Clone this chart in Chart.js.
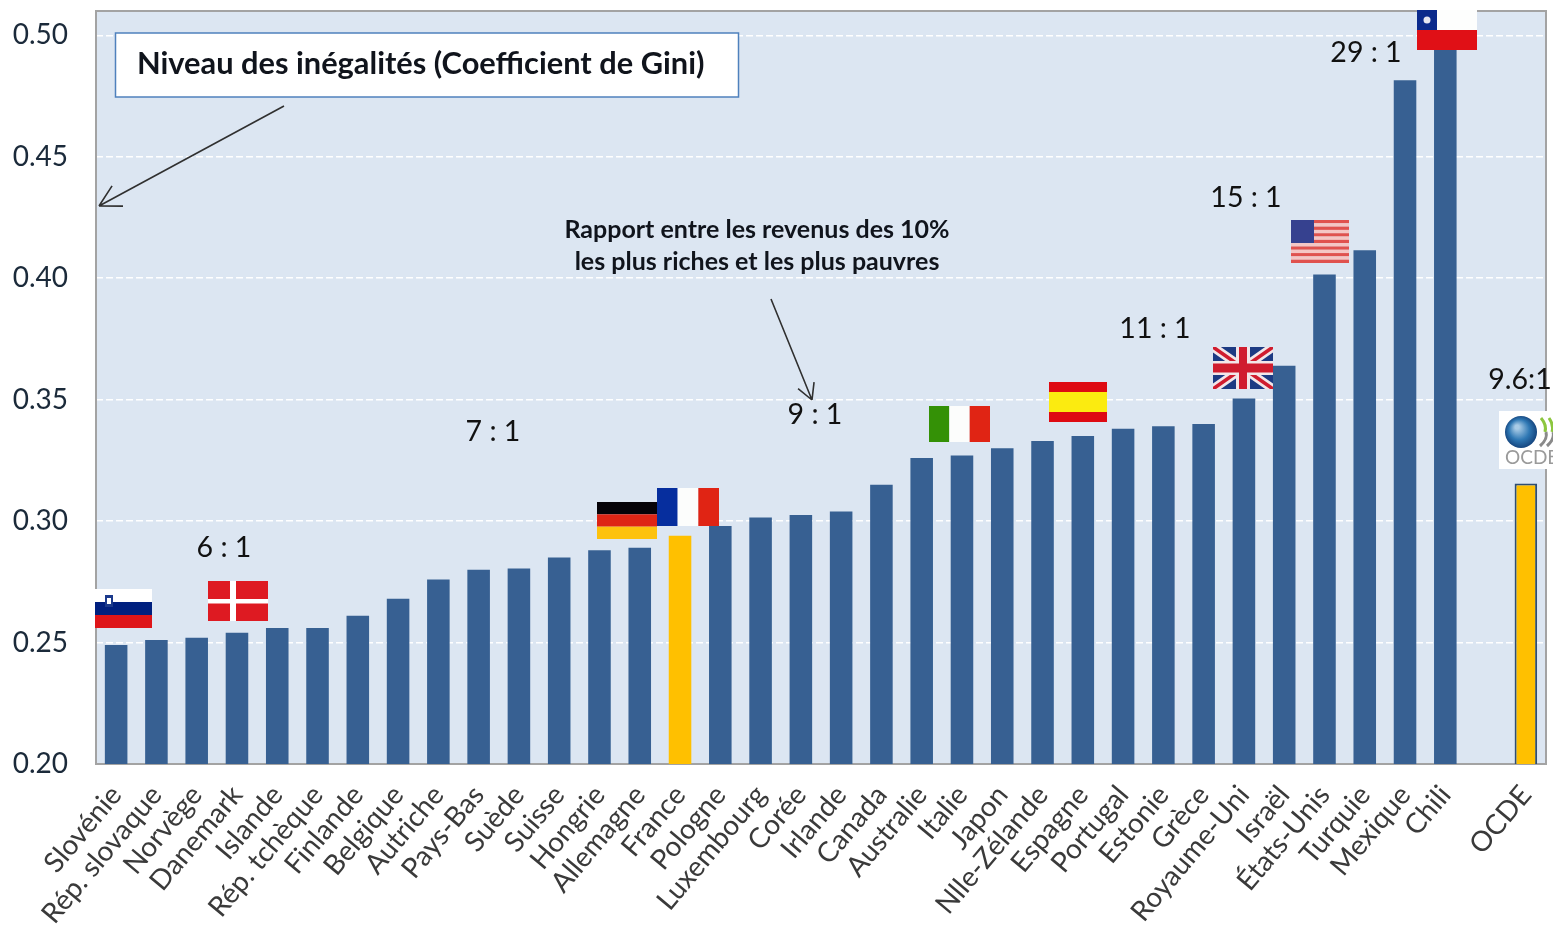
<!DOCTYPE html>
<html lang="fr">
<head>
  <meta charset="UTF-8" />
  <title>Niveau des inégalités (Coefficient de Gini)</title>
  <script src="https://cdn.jsdelivr.net/npm/chart.js"></script>
  <style>
    body { margin: 0; background: #fff; }
    canvas { display: block; }
  </style>
</head>
<body>
  <canvas id="giniChart" width="1554" height="930"></canvas>
  <script>
    // Data (the empty category is the gap before OCDE)
    const categories = ['Slovénie', 'Rép. slovaque', 'Norvège', 'Danemark', 'Islande', 'Rép. tchèque', 'Finlande', 'Belgique',
      'Autriche', 'Pays-Bas', 'Suède', 'Suisse', 'Hongrie', 'Allemagne', 'France', 'Pologne', 'Luxembourg', 'Corée',
      'Irlande', 'Canada', 'Australie', 'Italie', 'Japon', 'Nlle-Zélande', 'Espagne', 'Portugal', 'Estonie', 'Grèce',
      'Royaume-Uni', 'Israël', 'États-Unis', 'Turquie', 'Mexique', 'Chili', '', 'OCDE'];
    const giniValues = [0.249, 0.251, 0.252, 0.254, 0.256, 0.256, 0.261, 0.268,
      0.276, 0.280, 0.2805, 0.285, 0.288, 0.289, 0.294, 0.298, 0.3015, 0.3025,
      0.304, 0.315, 0.326, 0.327, 0.330, 0.333, 0.335, 0.338, 0.339, 0.340,
      0.3505, 0.364, 0.4015, 0.4115, 0.4815, 0.494, null, 0.3155];
    const yTicks = [0.20, 0.25, 0.30, 0.35, 0.40, 0.45, 0.50];
    const goldCategories = ['France', 'OCDE'];

    const FONT = 'Lato, sans-serif';

    // Background and frame of the plot area
    const plotFrame = {
      id: 'plotFrame',
      beforeDraw(chart) {
        const { ctx, chartArea: a } = chart;
        ctx.fillStyle = '#DCE6F2';
        ctx.fillRect(a.left, a.top, a.width, a.height);
      },
      beforeDatasetsDraw(chart) {
        const { ctx, chartArea: a } = chart;
        ctx.strokeStyle = '#A3A3A3';
        ctx.lineWidth = 2;
        ctx.strokeRect(a.left, a.top, a.width, a.height);
      }
    };

    function rect(ctx, color, x, y, w, h) {
      ctx.fillStyle = color;
      ctx.fillRect(x, y, w, h);
    }

    function bands(ctx, colors, x, y, w, h) {
      const step = h / colors.length;
      colors.forEach((c, i) => rect(ctx, c, x, y + i * step, w, step));
    }

    function columns(ctx, colors, x, y, w, h) {
      const step = w / colors.length;
      colors.forEach((c, i) => rect(ctx, c, x + i * step, y, step, h));
    }

    function ukFlag(ctx, x, y, w, h) {
      ctx.save();
      ctx.beginPath();
      ctx.rect(x, y, w, h);
      ctx.clip();
      rect(ctx, '#1C3A83', x, y, w, h);
      [['#F2E6E8', 9], ['#D01C2E', 3.5]].forEach(([color, width]) => {
        ctx.strokeStyle = color;
        ctx.lineWidth = width;
        ctx.beginPath();
        ctx.moveTo(x, y);
        ctx.lineTo(x + w, y + h);
        ctx.moveTo(x + w, y);
        ctx.lineTo(x, y + h);
        ctx.stroke();
      });
      rect(ctx, '#F2E6E8', x + w / 2 - 7, y, 14, h);
      rect(ctx, '#F2E6E8', x, y + h / 2 - 7, w, 14);
      rect(ctx, '#D01C2E', x + w / 2 - 4, y, 8, h);
      rect(ctx, '#D01C2E', x, y + h / 2 - 4.5, w, 9);
      ctx.restore();
    }

    function usFlag(ctx, x, y, w, h) {
      const step = h / 13;
      for (let i = 0; i < 13; i++) {
        rect(ctx, i % 2 ? '#F5C6C4' : '#E0524E', x, y + i * step, w, step);
      }
      rect(ctx, '#36418F', x, y, 23, 23);
    }

    function drawFlags(ctx) {
      // Slovénie
      bands(ctx, ['#FFFFFF', '#00207F', '#DE1519'], 95, 589, 57, 39);
      rect(ctx, '#1B3A8C', 105, 595, 8, 12);
      rect(ctx, '#FFFFFF', 107, 598, 4, 6);
      // Danemark
      rect(ctx, '#DE1A22', 208, 581, 60, 40);
      rect(ctx, '#FFFFFF', 230, 581, 6, 40);
      rect(ctx, '#FFFFFF', 208, 599, 60, 4.5);
      // Allemagne
      bands(ctx, ['#050308', '#DE2515', '#FDC20D'], 597, 502, 60, 37);
      // France
      columns(ctx, ['#062E9E', '#FCFDFC', '#E02414'], 657, 488, 62, 38);
      // Italie
      columns(ctx, ['#349106', '#FCFDFC', '#E02414'], 929, 406, 61, 36);
      // Espagne
      rect(ctx, '#DE0A12', 1049, 382, 58, 40);
      rect(ctx, '#FBEB10', 1049, 392, 58, 20);
      // Royaume-Uni
      ukFlag(ctx, 1213, 347, 60, 42);
      // États-Unis
      usFlag(ctx, 1291, 220, 58, 43);
      // Chili
      rect(ctx, '#FDFEFD', 1417, 10, 60, 20);
      rect(ctx, '#E01016', 1417, 30, 60, 20);
      rect(ctx, '#0B2A8C', 1417, 10, 20, 20);
      ctx.fillStyle = '#E6E6F0';
      ctx.beginPath();
      ctx.arc(1427, 20, 3.5, 0, Math.PI * 2);
      ctx.fill();
    }

    function drawOcdeLogo(ctx) {
      rect(ctx, '#FFFFFF', 1499, 411, 54, 58);
      const globe = ctx.createRadialGradient(1517, 427, 2, 1521, 432, 17);
      globe.addColorStop(0, '#A9CBE6');
      globe.addColorStop(0.55, '#2F78B4');
      globe.addColorStop(1, '#123F78');
      ctx.fillStyle = globe;
      ctx.beginPath();
      ctx.arc(1521, 432, 16, 0, Math.PI * 2);
      ctx.fill();
      // Wing strokes on the right of the globe, cut at the image edge
      ctx.save();
      ctx.beginPath();
      ctx.rect(1499, 411, 54, 58);
      ctx.clip();
      [['#8CC63F', 1541, 418, 1545, 432], ['#8CC63F', 1549, 418, 1552, 432],
       ['#8A8A8A', 1540, 446, 1546, 432], ['#8A8A8A', 1547, 446, 1553, 432]].forEach(([color, x1, y1, x2, y2]) => {
        ctx.strokeStyle = color;
        ctx.lineWidth = 3;
        ctx.beginPath();
        ctx.moveTo(x1, y1);
        ctx.quadraticCurveTo(x2 + 2, (y1 + y2) / 2, x2, y2);
        ctx.stroke();
      });
      ctx.fillStyle = '#9A9A9A';
      ctx.font = '19px ' + FONT;
      ctx.textAlign = 'left';
      ctx.textBaseline = 'middle';
      ctx.fillText('OCDE', 1505, 458);
      ctx.restore();
    }

    function arrow(ctx, x1, y1, x2, y2, head) {
      const angle = Math.atan2(y2 - y1, x2 - x1);
      ctx.strokeStyle = '#303030';
      ctx.lineWidth = 1.6;
      ctx.beginPath();
      ctx.moveTo(x1, y1);
      ctx.lineTo(x2, y2);
      [-0.5, 0.5].forEach(d => {
        ctx.moveTo(x2, y2);
        ctx.lineTo(x2 - head * Math.cos(angle + d), y2 - head * Math.sin(angle + d));
      });
      ctx.stroke();
    }

    // Everything that was pasted on top of the chart
    const overlays = {
      id: 'overlays',
      afterDraw(chart) {
        const ctx = chart.ctx;
        ctx.save();

        // Title box
        rect(ctx, '#FFFFFF', 115.5, 33, 623, 64);
        ctx.strokeStyle = '#4F81BD';
        ctx.lineWidth = 1.5;
        ctx.strokeRect(115.5, 33, 623, 64);
        ctx.fillStyle = '#10141C';
        ctx.font = 'bold 30.8px ' + FONT;
        ctx.textAlign = 'left';
        ctx.textBaseline = 'middle';
        ctx.fillText('Niveau des inégalités (Coefficient de Gini)', 137, 64);

        // Caption of the ratios
        ctx.font = 'bold 25px ' + FONT;
        ctx.textAlign = 'center';
        ctx.fillText('Rapport entre les revenus des 10%', 757, 230);
        ctx.fillText('les plus riches et les plus pauvres', 757, 262);

        arrow(ctx, 284, 106, 99, 206, 24);
        arrow(ctx, 771, 299, 812, 400, 18);

        drawFlags(ctx);
        drawOcdeLogo(ctx);

        // Ratio labels
        ctx.fillStyle = '#111111';
        ctx.font = '28.5px ' + FONT;
        ctx.textAlign = 'center';
        ctx.textBaseline = 'middle';
        [['6 : 1', 224, 548], ['7 : 1', 493, 432], ['9 : 1', 815, 415], ['11 : 1', 1155, 329],
         ['15 : 1', 1246, 198], ['29 : 1', 1366, 53], ['9.6:1', 1520, 380]].forEach(([text, x, y]) => {
          ctx.fillText(text, x, y);
        });

        ctx.restore();
      }
    };

    new Chart(document.getElementById('giniChart'), {
      type: 'bar',
      data: {
        labels: categories,
        datasets: [{
          data: giniValues,
          backgroundColor: categories.map(c => goldCategories.includes(c) ? '#FFC000' : '#376092'),
          borderColor: categories.map(c => c === 'OCDE' ? '#2F4E73' : 'rgba(0,0,0,0)'),
          borderWidth: categories.map(c => c === 'OCDE' ? 2 : 0),
          categoryPercentage: 1,
          barPercentage: 0.56
        }]
      },
      plugins: [plotFrame, overlays],
      options: {
        responsive: false,
        animation: false,
        layout: { padding: { top: 11, right: 8, left: 0, bottom: 0 } },
        plugins: { legend: { display: false }, tooltip: { enabled: false } },
        scales: {
          x: {
            offset: true,
            afterFit(scale) {
              scale.height = 166;
              scale.paddingLeft = 0;
              scale.paddingRight = 0;
            },
            grid: { display: false, drawTicks: false },
            border: { display: false },
            ticks: {
              autoSkip: false,
              maxRotation: 50,
              minRotation: 50,
              padding: 15,
              color: '#3A3A3A',
              font: { family: FONT, size: 28 }
            }
          },
          y: {
            min: 0.20,
            max: 0.51,
            afterFit(scale) {
              scale.width = 96;
              scale.paddingTop = 0;
              scale.paddingBottom = 0;
            },
            afterBuildTicks(scale) { scale.ticks = yTicks.map(v => ({ value: v })); },
            grid: { color: '#FFFFFF', lineWidth: 1.5, drawTicks: false },
            border: { display: false, dash: [7, 3] },
            ticks: {
              padding: 28,
              color: '#1B2A3A',
              font: { family: FONT, size: 28 },
              callback: v => v.toFixed(2)
            }
          }
        }
      }
    });
  </script>
</body>
</html>
